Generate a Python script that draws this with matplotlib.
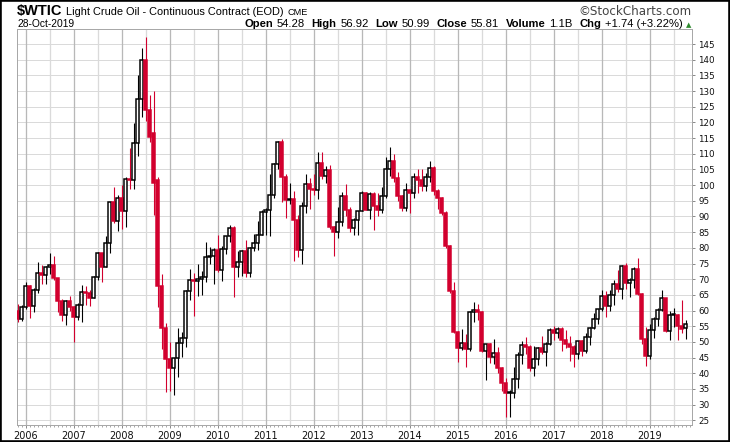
import matplotlib
matplotlib.use("Agg")
import matplotlib.pyplot as plt
from matplotlib.patches import Rectangle

# ---------------- data: monthly candles, Nov-2005 .. Oct-2019 ----------------
first_month_offset = -2          # Nov-2005 sits two months before Jan-2006
opens = [59.8, 57.3,
         61.0, 67.9, 61.4, 66.6, 71.9, 71.3, 73.9, 74.4, 70.3, 62.9, 58.7, 63.1,
         61.1, 58.1, 61.8, 65.9, 65.7, 64.0, 70.7, 78.2, 74.0, 81.7, 94.5, 88.7,
         96.0, 91.8, 101.8, 101.6, 113.5, 127.4, 140.0, 124.1, 116.7, 101.6, 67.8, 54.4,
         44.6, 41.7, 44.8, 49.7, 51.1, 66.3, 69.9, 69.5, 70.0, 70.6, 77.0, 77.3,
         79.4, 72.9, 79.7, 83.8, 86.2, 74.0, 75.6, 79.0, 71.9, 80.0, 81.4, 84.1,
         91.4, 92.2, 97.0, 106.7, 113.9, 102.7, 95.4, 95.7, 88.8, 79.2, 93.2, 100.4,
         98.8, 98.5, 107.1, 103.0, 104.9, 86.5, 85.0, 88.1, 96.5, 92.2, 86.2, 88.9,
         91.8, 97.5, 92.1, 97.2, 93.5, 92.0, 96.6, 105.0, 107.7, 102.3, 96.4, 92.7,
         98.4, 97.5, 102.6, 101.6, 99.7, 102.7, 105.4, 98.2, 96.0, 91.2, 80.5, 66.2,
         53.3, 48.2, 49.8, 47.6, 59.6, 60.3, 59.5, 47.1, 49.2, 45.1, 46.6, 41.7,
         37.0, 33.6, 33.8, 38.3, 45.9, 49.1, 48.3, 41.6, 44.7, 48.2, 46.9, 49.4,
         53.7, 52.8, 54.0, 50.6, 49.3, 48.3, 46.0, 50.2, 47.2, 51.7, 54.4, 57.4,
         60.4, 64.7, 61.6, 64.9, 68.6, 67.0, 74.2, 68.8, 69.8, 73.3, 65.3, 50.9,
         45.4, 53.8, 57.2, 60.1, 63.9, 53.5, 58.9, 58.6, 55.1, 54.28]
highs = [62.1, 61.7,
         69.2, 68.0, 67.2, 75.4, 74.6, 74.2, 78.4, 77.3, 70.4, 63.7, 63.5, 64.5,
         61.3, 62.3, 68.1, 67.9, 66.7, 70.9, 78.8, 78.3, 83.9, 94.7, 99.3, 97.0,
         100.1, 102.6, 111.8, 119.9, 135.1, 143.7, 147.3, 128.7, 130.0, 102.7, 71.6, 55.9,
         50.1, 44.9, 54.4, 53.3, 66.5, 73.3, 72.0, 75.0, 72.6, 82.0, 80.4, 80.0,
         84.0, 80.5, 83.9, 87.2, 87.0, 79.0, 79.4, 82.4, 80.4, 84.4, 88.6, 92.0,
         92.6, 103.4, 107.0, 114.0, 114.8, 103.4, 100.6, 98.0, 90.5, 94.7, 103.4, 102.4,
         103.7, 110.6, 110.6, 106.0, 106.4, 87.0, 92.9, 97.8, 100.4, 92.9, 89.6, 91.0,
         98.2, 97.8, 97.8, 97.8, 97.4, 99.3, 108.9, 112.2, 110.0, 104.1, 97.0, 100.8,
         98.7, 104.0, 105.2, 105.0, 104.0, 107.7, 106.0, 98.7, 96.2, 91.9, 80.9, 69.0,
         53.5, 54.2, 52.5, 59.9, 62.6, 62.0, 59.7, 49.3, 49.5, 50.9, 48.4, 42.0,
         38.4, 34.8, 41.9, 46.8, 50.2, 51.7, 49.0, 48.8, 48.4, 51.9, 50.0, 54.5,
         55.2, 54.9, 54.6, 53.8, 52.0, 49.0, 50.4, 50.6, 52.9, 54.9, 59.1, 60.5,
         66.7, 66.3, 66.6, 69.6, 72.9, 74.5, 75.3, 70.4, 73.8, 76.9, 65.5, 54.6,
         55.6, 57.8, 60.7, 66.6, 64.0, 59.9, 60.9, 58.8, 63.4, 56.92]
lows = [56.3, 56.7,
        60.5, 57.6, 59.6, 65.7, 68.4, 68.5, 71.8, 69.6, 59.5, 56.6, 55.4, 60.0,
        50.0, 57.1, 56.5, 61.9, 61.3, 63.9, 69.7, 69.1, 73.9, 78.5, 88.0, 85.4,
        86.1, 86.5, 98.7, 98.7, 109.3, 121.6, 120.4, 113.9, 90.5, 61.2, 47.6, 34.0,
        34.5, 33.0, 38.9, 45.3, 48.4, 63.5, 58.3, 64.7, 65.1, 69.1, 74.8, 68.6,
        72.4, 69.5, 78.0, 82.0, 64.2, 70.8, 71.0, 70.8, 70.8, 79.0, 79.3, 84.0,
        84.0, 83.9, 95.8, 105.2, 94.6, 89.6, 94.0, 75.7, 77.1, 75.0, 91.0, 92.5,
        97.0, 95.5, 102.0, 100.7, 86.0, 77.3, 83.0, 87.0, 90.0, 85.0, 84.1, 84.2,
        91.7, 92.0, 89.3, 85.6, 90.0, 91.0, 96.0, 103.0, 101.0, 95.0, 91.8, 91.8,
        91.2, 96.0, 97.4, 98.0, 98.0, 101.0, 97.0, 92.5, 90.4, 79.8, 65.7, 52.7,
        43.6, 47.5, 42.0, 47.0, 56.5, 57.0, 46.7, 37.8, 43.2, 43.0, 40.0, 34.5,
        26.2, 26.1, 32.0, 35.2, 43.0, 46.0, 40.6, 39.2, 42.5, 46.0, 42.2, 49.0,
        50.7, 51.2, 47.1, 48.2, 43.8, 42.1, 44.4, 45.6, 46.6, 49.1, 54.2, 55.8,
        59.8, 58.1, 60.0, 61.8, 65.8, 63.6, 67.0, 64.4, 67.1, 64.9, 49.4, 42.4,
        44.4, 51.2, 55.1, 59.8, 53.1, 50.6, 54.7, 50.5, 52.8, 50.99]
closes = [57.3, 61.0,
          67.9, 61.4, 66.6, 71.9, 71.3, 73.9, 74.4, 70.3, 62.9, 58.7, 63.1, 61.1,
          58.1, 61.8, 65.9, 65.7, 64.0, 70.7, 78.2, 74.0, 81.7, 94.5, 88.7, 96.0,
          91.8, 101.8, 101.6, 113.5, 127.4, 140.0, 124.1, 115.5, 100.6, 67.8, 54.4, 44.6,
          41.7, 44.8, 49.7, 51.1, 66.3, 69.9, 69.5, 70.0, 70.6, 77.0, 77.3, 79.4,
          72.9, 79.7, 83.8, 86.2, 74.0, 75.6, 79.0, 71.9, 80.0, 81.4, 84.1, 91.4,
          92.2, 97.0, 106.7, 113.9, 102.7, 95.4, 95.7, 88.8, 79.2, 93.2, 100.4, 98.8,
          98.5, 107.1, 103.0, 104.9, 86.5, 85.0, 88.1, 96.5, 92.2, 86.2, 88.9, 91.8,
          97.5, 92.1, 97.2, 93.5, 92.0, 96.6, 105.0, 107.7, 102.3, 96.4, 92.7, 98.4,
          97.5, 102.6, 101.6, 99.7, 102.7, 105.4, 98.2, 96.0, 91.2, 80.5, 66.2, 53.3,
          48.2, 49.8, 47.6, 59.6, 60.3, 59.5, 47.1, 49.2, 45.1, 46.6, 41.7, 37.0,
          33.6, 33.8, 38.3, 45.9, 49.1, 48.3, 41.6, 44.7, 48.2, 46.9, 49.4, 53.7,
          52.8, 54.0, 50.6, 49.3, 48.3, 46.0, 50.2, 47.2, 51.7, 54.4, 57.4, 60.4,
          64.7, 61.6, 64.9, 68.6, 67.0, 74.2, 68.8, 69.8, 73.3, 65.3, 50.9, 45.4,
          53.8, 57.2, 60.1, 63.9, 53.5, 58.5, 58.6, 55.1, 54.1, 55.81]
prev_close_before_first = 59.8

year_labels = ["2006", "2007", "2008", "2009", "2010", "2011", "2012",
               "2013", "2014", "2015", "2016", "2017", "2018", "2019"]
y_ticks = list(range(25, 150, 5))

header_symbol = "\\$WTIC"
header_name = "Light Crude Oil - Continuous Contract (EOD)"
header_exchange = "CME"
header_date = "28-Oct-2019"
stats = [("Open", "54.28"), ("High", "56.92"), ("Low", "50.99"),
         ("Close", "55.81"), ("Volume", "1.1B"), ("Chg", "+1.74 (+3.22%)")]

# ---------------- figure ----------------
W, H = 730, 442
fig = plt.figure(figsize=(W / 100, H / 100), dpi=100)
fig.patch.set_facecolor("white")

def fx(px):
    return px / W

def fy(py):
    return 1 - py / H

L, R, T, B = 17.3, 692.0, 29.0, 425.0
ax = fig.add_axes([fx(L), fy(B), fx(R - L), (B - T) / H])

RED = "#D2002E"
BLACK = "#000000"
n = len(closes)
xs = [first_month_offset + i for i in range(n)]

px_lw = 72 / 100  # 1 pixel in points
for i in range(n):
    o, h, l, c = opens[i], highs[i], lows[i], closes[i]
    pc = prev_close_before_first if i == 0 else closes[i - 1]
    col = BLACK if c >= pc else RED
    ax.vlines(xs[i], l, h, color=col, lw=1.1 * px_lw, zorder=2)
    bot = min(o, c)
    ht = max(abs(c - o), 0.3)
    face = "white" if c >= o else col
    ax.bar(xs[i], ht, bottom=bot, width=0.62, facecolor=face, edgecolor=col,
           linewidth=1.5 * px_lw, zorder=3)

# grid
for yv in y_ticks:
    ax.axhline(yv, color="#DADADA", lw=1.0 * px_lw, zorder=0)
for k in range(len(year_labels)):
    ax.axvline(12 * k, color="#B8B8B8", lw=1.3 * px_lw, zorder=0)
    ax.axvline(12 * k + 6, color="#DADADA", lw=1.3 * px_lw, zorder=0)

ax.set_xlim(-2.1, 166.6)
ax.set_ylim(23.5, 149.8)

for s in ax.spines.values():
    s.set_color("#A8A8A8")
    s.set_linewidth(1.0 * px_lw)

ax.yaxis.tick_right()
ax.set_yticks(y_ticks)
ax.set_yticklabels([str(v) for v in y_ticks], fontsize=6.3, family="DejaVu Sans")
ax.tick_params(axis="y", which="major", length=2.5, width=0.7, color="#888888",
               pad=2, labelcolor="#111111")
ax.set_xticks([12 * k for k in range(len(year_labels))])
ax.set_xticklabels(year_labels, fontsize=7.0, family="DejaVu Sans")
ax.set_xticks([m for m in range(-2, 167)], minor=True)
ax.tick_params(axis="x", which="major", length=2.5, width=0.7, color="#888888",
               pad=2.0, labelcolor="#111111")
ax.tick_params(axis="x", which="minor", length=1.2, width=0.6, color="#999999")
ax.tick_params(axis="y", which="minor", length=0)

# ---------------- header text ----------------
renderer = fig.canvas.get_renderer()

def put(xpx, ypx, s, size, weight="normal", family="Liberation Sans", color="black", ha="left"):
    t = fig.text(fx(xpx), fy(ypx), s, fontsize=size, fontweight=weight,
                 family=family, color=color, ha=ha, va="baseline")
    bb = t.get_window_extent(renderer=renderer)
    return t, bb.width

x = 17.0
_, w = put(x, 15.0, header_symbol, 10.5, weight="bold")
x += w + 3
_, w = put(x, 15.0, header_name, 7.9)
x += w + 4
put(x, 15.0, header_exchange, 6.6)

put(17.0, 27.3, header_date, 7.4)
put(692.0, 15.0, "\u00a9StockCharts.com", 8.6, family="DejaVu Sans", color="#444444", ha="right")

# stats line, laid out left to right
pieces = []
for lab, val in stats:
    pieces.append((lab, "bold"))
    pieces.append((val, "normal"))
fs_stats = 8.1
widths = []
for s, wgt in pieces:
    t = fig.text(0, 0, s, fontsize=fs_stats, fontweight=wgt, family="Liberation Sans")
    widths.append(t.get_window_extent(renderer=renderer).width)
    t.remove()
gap_in, gap_out = 3.5, 7.0
total = sum(widths) + gap_in * len(stats) + gap_out * (len(stats) - 1)
x = 683.0 - total
for j, (s, wgt) in enumerate(pieces):
    put(x, 27.3, s, fs_stats, weight=wgt)
    x += widths[j] + (gap_in if j % 2 == 0 else gap_out)
fig.text(fx(689.0), fy(27.0), "\u25b2", fontsize=5.0, color="#2E8B2E",
         ha="center", va="baseline", family="DejaVu Sans")

# outer frame
fig.patches.append(Rectangle((0, 0), 1, 1, transform=fig.transFigure, fill=False,
                             edgecolor="black", linewidth=2.6, zorder=10))

fig.savefig("out.png", dpi=100, facecolor="white")
